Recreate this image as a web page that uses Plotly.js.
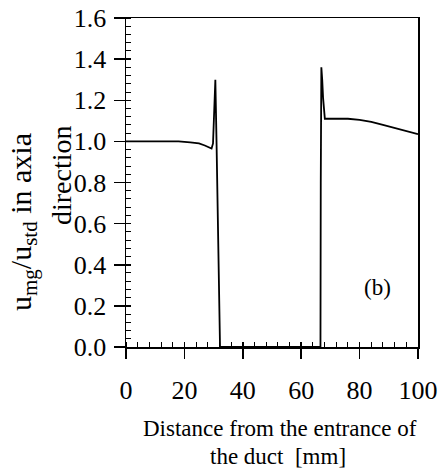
<!DOCTYPE html>
<html>
<head>
<meta charset="utf-8">
<script src="https://cdn.plot.ly/plotly-3.0.1.min.js"></script>
<style>html,body{margin:0;padding:0;background:#fff;}#chart{width:438px;height:471px;}</style>
</head>
<body>
<div id="chart"></div>
<script>
// Distance from the entrance of the duct [mm]
const distance = [0, 10, 18, 22, 25, 27, 28.5, 29.3, 29.8, 30.3, 30.6, 31.0, 31.5, 32.2, 40, 50, 60, 66.6, 66.7, 66.9, 67.2, 67.5, 68.1, 72, 76, 80, 84, 88, 92, 96, 100];
// u_mg / u_std in axial direction
const ratio = [1.0, 1.0, 1.0, 0.995, 0.99, 0.98, 0.97, 0.965, 0.99, 1.15, 1.3, 1.0, 0.55, 0.0, 0.0, 0.0, 0.0, 0.0, 0.8, 1.36, 1.3, 1.21, 1.11, 1.11, 1.11, 1.105, 1.095, 1.08, 1.065, 1.05, 1.035];
const xTicks = [0, 20, 40, 60, 80, 100];
const yTicks = [0, 0.2, 0.4, 0.6, 0.8, 1.0, 1.2, 1.4, 1.6];

const FONT = "Liberation Serif, Times New Roman, serif";
const L = 126, R = 20, T = 18, B = 124;
const W = 438 - L - R, H = 471 - T - B;
const px = x => (x - L) / W;
const py = y => (471 - B - y) / H;

const trace = {
  x: distance, y: ratio, type: 'scatter', mode: 'lines',
  line: {color: '#000', width: 1.8}, hoverinfo: 'skip'
};
// invisible copy on overlay axes, used only to draw the inner half of the major ticks
const tickTrace = {
  x: distance, y: ratio, xaxis: 'x2', yaxis: 'y2', type: 'scatter', mode: 'lines',
  line: {color: 'rgba(0,0,0,0)', width: 0}, hoverinfo: 'skip'
};

const layout = {
  width: 438, height: 471,
  margin: {l: L, r: R, t: T, b: B},
  paper_bgcolor: '#fff', plot_bgcolor: '#fff',
  showlegend: false,
  font: {family: FONT, color: '#000', size: 26},
  xaxis: {
    range: [0, 100], tickvals: xTicks, ticks: 'outside', ticklen: 10, tickwidth: 1.5, tickcolor: '#000',
    ticklabelstandoff: 9, ticklabeloverflow: 'allow',
    minor: {dtick: 4, ticks: 'inside', ticklen: 5, tickwidth: 1, tickcolor: '#000', showgrid: false},
    showline: true, linecolor: '#000', linewidth: 1.5, mirror: true,
    showgrid: false, zeroline: false, tickfont: {family: FONT, size: 26}
  },
  yaxis: {
    range: [0, 1.6], tickvals: yTicks, tickformat: '.1f', ticks: 'outside', ticklen: 11, tickwidth: 1.5, tickcolor: '#000',
    ticklabelstandoff: 2, ticklabeloverflow: 'allow',
    minor: {dtick: 0.04, ticks: 'inside', ticklen: 5, tickwidth: 1, tickcolor: '#000', showgrid: false},
    showline: true, linecolor: '#000', linewidth: 1.5, mirror: true,
    showgrid: false, zeroline: false, tickfont: {family: FONT, size: 26}
  },
  xaxis2: {
    overlaying: 'x', range: [0, 100], tickvals: xTicks, ticks: 'inside', ticklen: 5, tickwidth: 1.5, tickcolor: '#000',
    showticklabels: false, showline: false, showgrid: false, zeroline: false, side: 'bottom'
  },
  yaxis2: {
    overlaying: 'y', range: [0, 1.6], tickvals: yTicks, ticks: 'inside', ticklen: 5, tickwidth: 1.5, tickcolor: '#000',
    showticklabels: false, showline: false, showgrid: false, zeroline: false, side: 'left'
  },
  annotations: [
    {xref: 'paper', yref: 'paper', x: px(23), y: py(222), text: 'u<sub>mg</sub>/u<sub>std</sub> in axia',
     textangle: -90, showarrow: false, xanchor: 'center', yanchor: 'middle', font: {family: FONT, size: 30}},
    {xref: 'paper', yref: 'paper', x: px(61), y: py(175), text: 'direction',
     textangle: -90, showarrow: false, xanchor: 'center', yanchor: 'middle', font: {family: FONT, size: 28}},
    {xref: 'paper', yref: 'paper', x: px(280), y: py(428), text: 'Distance from the entrance of',
     showarrow: false, xanchor: 'center', yanchor: 'middle', font: {family: FONT, size: 23}},
    {xref: 'paper', yref: 'paper', x: px(278), y: py(456), text: 'the duct&nbsp;&nbsp;[mm]',
     showarrow: false, xanchor: 'center', yanchor: 'middle', font: {family: FONT, size: 23}},
    {xref: 'paper', yref: 'paper', x: px(377), y: py(287), text: '(b)',
     showarrow: false, xanchor: 'center', yanchor: 'middle', font: {family: FONT, size: 23}}
  ]
};

Plotly.newPlot('chart', [trace, tickTrace], layout, {staticPlot: true, displayModeBar: false});
</script>
</body>
</html>
